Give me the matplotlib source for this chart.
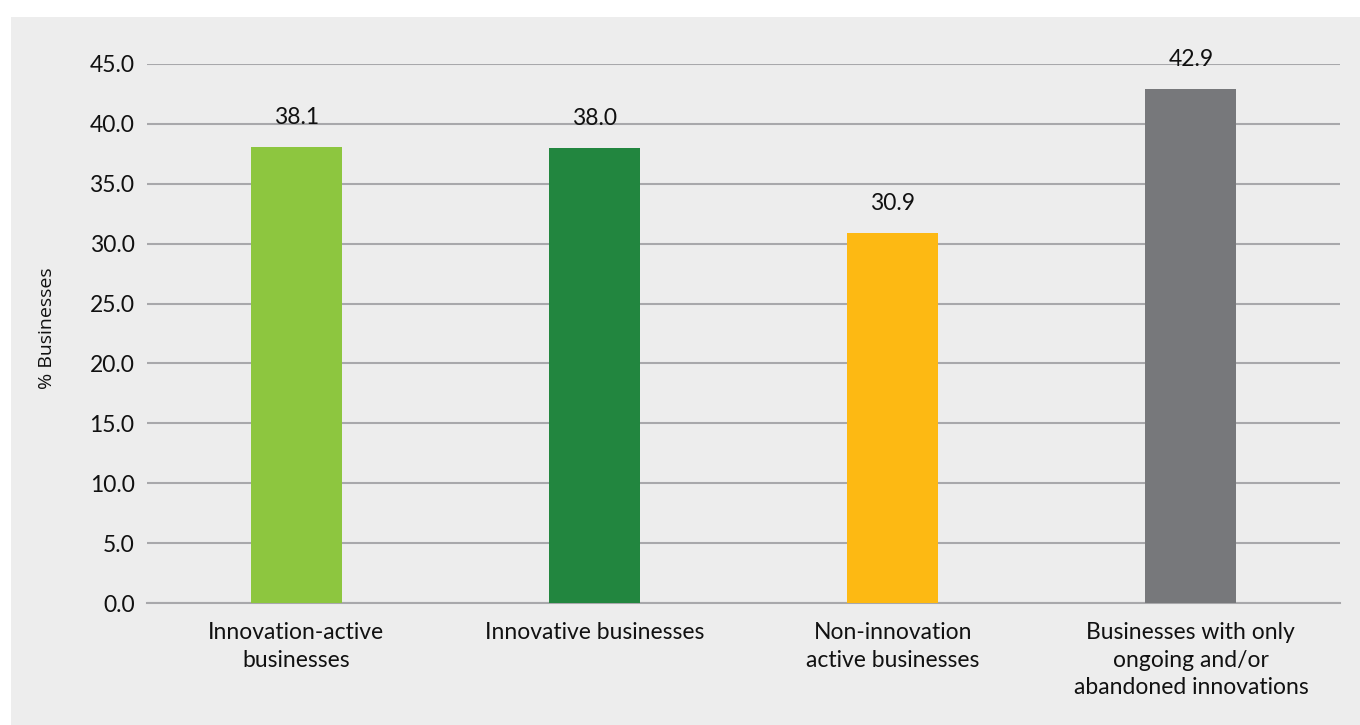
import matplotlib.pyplot as plt
from matplotlib.patches import Rectangle

categories = ['Innovation-active\nbusinesses',
              'Innovative businesses',
              'Non-innovation\nactive businesses',
              'Businesses with only\nongoing and/or\nabandoned innovations']
values = [38.1, 38.0, 30.9, 42.9]
colors = ['#8dc63f', '#22863f', '#fdb913', '#77787b']
yticks = [0, 5, 10, 15, 20, 25, 30, 35, 40, 45]

plt.rcParams['font.family'] = ['Lato', 'DejaVu Sans']

fig = plt.figure(figsize=(13.6, 7.25), dpi=100)
fig.patch.set_facecolor('white')
# grey panel behind the chart
fig.add_artist(Rectangle((11 / 1360, 0), 1, 1 - 17 / 725,
                         transform=fig.transFigure, facecolor='#ededed',
                         edgecolor='none', zorder=-1))

ax = fig.add_axes([147 / 1360, 1 - 603 / 725, 1193 / 1360, 539 / 725])
ax.set_facecolor('none')

x = range(len(values))
ax.bar(x, values, width=0.305, color=colors, zorder=3)
for xi, v in zip(x, values):
    ax.annotate(f'{v:.1f}', (xi, v), xytext=(0, 21), textcoords='offset points',
                ha='center', va='center', fontsize=16.5, color='#111111')

ax.set_xlim(-0.5, len(values) - 0.5)
ax.set_ylim(0, 45)
ax.set_yticks(yticks)
ax.set_yticklabels([f'{t:.1f}' for t in yticks])
ax.set_xticks(list(x))
ax.set_xticklabels(categories, linespacing=1.38)
ax.tick_params(axis='both', length=0, labelsize=16.5, colors='#111111')
ax.tick_params(axis='y', pad=9)
ax.tick_params(axis='x', pad=14)

ax.grid(axis='y', color='#a8a8ab', lw=1.5, zorder=1)
for s in ['top', 'right', 'left']:
    ax.spines[s].set_visible(False)
ax.spines['bottom'].set_color('#a8a8ab')
ax.spines['bottom'].set_linewidth(1.5)

fig.text(47 / 1360, 1 - 328 / 725, '% Businesses', rotation=90, ha='center',
         va='center', fontsize=14, family=['Open Sans', 'DejaVu Sans'],
         color='#111111')

fig.savefig('out.png', dpi=100)
